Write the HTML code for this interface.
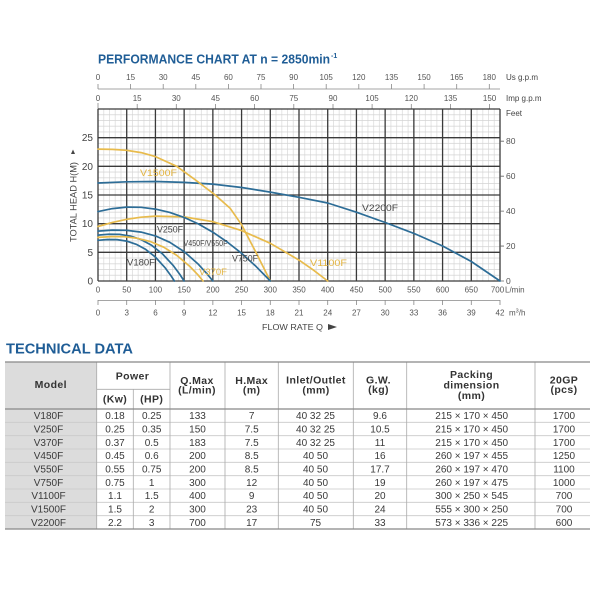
<!DOCTYPE html>
<html>
<head>
<meta charset="utf-8">
<style>
  html,body{margin:0;padding:0;background:#fff;}
  svg{display:block;}
  text{font-family:"Liberation Sans", Arial, sans-serif;}
</style>
</head>
<body>
<svg width="600" height="600" viewBox="0 0 600 600" xmlns="http://www.w3.org/2000/svg">
  <defs>
    <pattern id="mg" patternUnits="userSpaceOnUse" x="95.129" y="106.133" width="5.7429" height="5.7333">
      <path d="M2.8714 0V5.7333M0 2.8667H5.7429" stroke="#d2d2d2" stroke-width="0.6" fill="none"/>
    </pattern>
  </defs>
  <rect width="600" height="600" fill="#fff"/>

  <!-- Title -->
  <text x="98" y="63.5" font-size="12.5" font-weight="bold" fill="#1f5d96" textLength="232" lengthAdjust="spacingAndGlyphs">PERFORMANCE CHART AT n = 2850min</text>
  <text x="331" y="58" font-size="7" font-weight="bold" fill="#1f5d96">-1</text>

  <!-- Top US gpm axis -->
  <g fill="#555" font-size="8" text-anchor="middle">
    <text x="98" y="80">0</text><text x="130.6" y="80">15</text><text x="163.2" y="80">30</text>
    <text x="195.8" y="80">45</text><text x="228.4" y="80">60</text><text x="261" y="80">75</text>
    <text x="293.6" y="80">90</text><text x="326.2" y="80">105</text><text x="358.8" y="80">120</text>
    <text x="391.5" y="80">135</text><text x="424.1" y="80">150</text><text x="456.7" y="80">165</text>
    <text x="489.3" y="80">180</text>
  </g>
  <path d="M98 89H500 M98 84V89 M130.6 84V89 M163.2 84V89 M195.8 84V89 M228.4 84V89 M261 84V89 M293.6 84V89 M326.2 84V89 M358.8 84V89 M391.5 84V89 M424.1 84V89 M456.7 84V89 M489.3 84V89" stroke="#888" stroke-width="0.8" fill="none"/>
  <!-- Imp gpm axis -->
  <g fill="#555" font-size="8" text-anchor="middle">
    <text x="98" y="101">0</text><text x="137.2" y="101">15</text><text x="176.3" y="101">30</text>
    <text x="215.5" y="101">45</text><text x="254.6" y="101">60</text><text x="293.8" y="101">75</text>
    <text x="333" y="101">90</text><text x="372.1" y="101">105</text><text x="411.3" y="101">120</text>
    <text x="450.5" y="101">135</text><text x="489.6" y="101">150</text>
  </g>
  <path d="M98 103V109 M137.2 104V109 M176.3 104V109 M215.5 104V109 M254.6 104V109 M293.8 104V109 M333 104V109 M372.1 104V109 M411.3 104V109 M450.5 104V109 M489.6 104V109" stroke="#888" stroke-width="0.8" fill="none"/>
  <g fill="#444" font-size="8">
    <text x="506" y="80">Us g.p.m</text>
    <text x="506" y="101">Imp g.p.m</text>
    <text x="506" y="116">Feet</text>
  </g>

  <!-- Grid -->
  <rect x="98" y="109" width="402" height="172" fill="url(#mg)"/>
  <path d="M98 109V281 M126.71 109V281 M155.43 109V281 M184.14 109V281 M212.86 109V281 M241.57 109V281 M270.29 109V281 M299 109V281 M327.71 109V281 M356.43 109V281 M385.14 109V281 M413.86 109V281 M442.57 109V281 M471.29 109V281 M500 109V281
           M98 109H500 M98 137.67H500 M98 166.33H500 M98 195H500 M98 223.67H500 M98 252.33H500 M98 281H500"
        stroke="#3a3a3a" stroke-width="1.3" fill="none"/>

  <!-- Left axis labels -->
  <g fill="#444" font-size="10" text-anchor="end">
    <text x="93" y="284.5">0</text><text x="93" y="255.8">5</text><text x="93" y="227.2">10</text>
    <text x="93" y="198.5">15</text><text x="93" y="169.8">20</text><text x="93" y="141.2">25</text>
  </g>
  <text transform="translate(76.5,202) rotate(-90)" text-anchor="middle" font-size="9" fill="#444" textLength="80" lengthAdjust="spacingAndGlyphs">TOTAL HEAD H(M)</text>
  <polygon points="71,154 75,154 73,149.5" fill="#444"/>

  <!-- Right feet axis -->
  <path d="M500 281H504 M500 246.05H504 M500 211.1H504 M500 176.2H504 M500 141.2H504" stroke="#666" stroke-width="0.8"/>
  <g fill="#555" font-size="8.5">
    <text x="506" y="284">0</text><text x="506" y="249">20</text><text x="506" y="214">40</text>
    <text x="506" y="179">60</text><text x="506" y="144">80</text>
  </g>

  <!-- Bottom L/min labels -->
  <g fill="#555" font-size="8" text-anchor="middle">
    <text x="98" y="292.5">0</text><text x="126.71" y="292.5">50</text><text x="155.43" y="292.5">100</text>
    <text x="184.14" y="292.5">150</text><text x="212.86" y="292.5">200</text><text x="241.57" y="292.5">250</text>
    <text x="270.29" y="292.5">300</text><text x="299" y="292.5">350</text><text x="327.71" y="292.5">400</text>
    <text x="356.43" y="292.5">450</text><text x="385.14" y="292.5">500</text><text x="413.86" y="292.5">550</text>
    <text x="442.57" y="292.5">600</text><text x="471.29" y="292.5">650</text><text x="497.5" y="292.5">700</text>
  </g>
  <text x="505" y="292.5" font-size="8" fill="#555">L/min</text>

  <!-- m3/h axis -->
  <path d="M98 300.5H500 M98 300V305 M126.71 300V305 M155.43 300V305 M184.14 300V305 M212.86 300V305 M241.57 300V305 M270.29 300V305 M299 300V305 M327.71 300V305 M356.43 300V305 M385.14 300V305 M413.86 300V305 M442.57 300V305 M471.29 300V305 M500 300V305" stroke="#888" stroke-width="0.8" fill="none"/>
  <g fill="#555" font-size="8" text-anchor="middle">
    <text x="98" y="315.5">0</text><text x="126.71" y="315.5">3</text><text x="155.43" y="315.5">6</text>
    <text x="184.14" y="315.5">9</text><text x="212.86" y="315.5">12</text><text x="241.57" y="315.5">15</text>
    <text x="270.29" y="315.5">18</text><text x="299" y="315.5">21</text><text x="327.71" y="315.5">24</text>
    <text x="356.43" y="315.5">27</text><text x="385.14" y="315.5">30</text><text x="413.86" y="315.5">33</text>
    <text x="442.57" y="315.5">36</text><text x="471.29" y="315.5">39</text><text x="500" y="315.5">42</text>
  </g>
  <text x="509" y="315.5" font-size="8" fill="#555">m<tspan font-size="5.5" dy="-3">3</tspan><tspan dy="3">/h</tspan></text>
  <text x="262" y="330" font-size="8.5" fill="#444" textLength="61" lengthAdjust="spacingAndGlyphs">FLOW RATE  Q</text>
  <polygon points="328,324 328,330 337,327" fill="#444"/>

  <!-- Curves -->
  <g fill="none" stroke-width="1.7" stroke-linejoin="round" stroke-linecap="round">
    <polyline stroke="#2d6d97" points="98,183.0 126.7,181.8 155.4,181.5 184.1,182.4 212.9,184.1 241.6,187.5 270.3,192.1 299,197.3 327.7,203.0 356.4,212.2 385.2,222.5 413.9,233.4 442.6,246.0 471.3,261.5 500,281"/>
    <polyline stroke="#e8bb4c" points="98,149.1 112.4,149.4 126.7,150.3 141.1,152.6 155.4,156.6 176.7,166.3 195.6,180.1 215.2,195.0 230.1,208.2 241.6,224.8 255.9,252.3 270.3,281"/>
    <polyline stroke="#e8bb4c" points="98,226.5 112.4,222.4 126.7,219.3 141.1,217.2 155.4,216.1 184.1,216.9 212.9,221.7 241.6,230.6 270.3,243.3 299,260.1 313.4,270.1 327.7,281"/>
    <polyline stroke="#2d6d97" points="98,211.6 112.4,208.6 126.7,207.1 141.1,207.3 155.4,209.1 169.8,212.4 184.1,217.4 198.5,224.0 212.9,232.2 227.2,242.0 241.6,253.3 255.9,266.3 270.3,281"/>
    <polyline stroke="#2d6d97" points="98,231.1 112.4,230.1 126.7,230.3 141.1,232.1 155.4,235.9 169.8,242.3 184.1,251.6 198.5,264.4 207.1,273.9 212.9,281"/>
    <polyline stroke="#2d6d97" points="98,235.1 108.8,234.2 119.5,234.3 130.3,236.1 141.1,239.6 151.8,245.4 162.6,254 173.4,265.7 179.8,274.4 184.1,281"/>
    <polyline stroke="#e8bb4c" points="98,237.4 111.2,236.6 124.3,236.7 137.4,238.3 150.5,241.6 163.7,247.2 176.8,255.4 189.9,266.5 197.9,274.8 203.1,281"/>
    <polyline stroke="#2d6d97" points="98,240.3 107.5,239.5 117.1,239.6 126.7,241.1 136.2,244.3 145.7,249.4 155.3,257 164.8,267.4 170.6,275.2 174.4,281"/>
  </g>

  <!-- Curve labels -->
  <g font-size="9.5">
    <text x="140" y="176" fill="#e3b440" textLength="37" lengthAdjust="spacingAndGlyphs">V1500F</text>
    <text x="362" y="211" fill="#444" textLength="36" lengthAdjust="spacingAndGlyphs">V2200F</text>
    <text x="157" y="232.5" fill="#444" textLength="26" lengthAdjust="spacingAndGlyphs">V250F</text>
    <text x="183.5" y="246" fill="#444" textLength="44" lengthAdjust="spacingAndGlyphs" font-size="8.5">V450F/V550F</text>
    <text x="127" y="265.5" fill="#444" textLength="28" lengthAdjust="spacingAndGlyphs">V180F</text>
    <text x="232" y="261.5" fill="#444" textLength="26" lengthAdjust="spacingAndGlyphs">V750F</text>
    <text x="199" y="275" fill="#e3b440" textLength="28" lengthAdjust="spacingAndGlyphs">V370F</text>
    <text x="310" y="266" fill="#e3b440" textLength="37" lengthAdjust="spacingAndGlyphs">V1100F</text>
  </g>

  <!-- TECHNICAL DATA -->
  <text x="6" y="353.5" font-size="14.5" font-weight="bold" fill="#1f5d96" textLength="127" lengthAdjust="spacingAndGlyphs">TECHNICAL DATA</text>

  <!-- Table -->
  <rect x="5" y="362" width="91.7" height="167" fill="#dcdcdc"/>
  <path d="M5 422.3H590 M5 435.7H590 M5 449H590 M5 462.3H590 M5 475.7H590 M5 489H590 M5 502.3H590 M5 515.7H590" stroke="#c9c9c9" stroke-width="0.8"/>
  <path d="M96.7 362V529 M170 362V529 M225 362V529 M278.3 362V529 M353.3 362V529 M406.7 362V529 M535 362V529 M133.3 389.3V529 M96.7 389.3H170" stroke="#aaa" stroke-width="0.8"/>
  <path d="M5 362H590 M5 409H590 M5 529H590" stroke="#888" stroke-width="1.2"/>

  <g font-size="10.5" font-weight="bold" fill="#333" text-anchor="middle" letter-spacing="0.4">
    <text x="50.8" y="388">Model</text>
    <text x="132.5" y="379.5">Power</text>
    <text x="115" y="402.5">(Kw)</text>
    <text x="151.7" y="402.5">(HP)</text>
    <text x="197" y="384">Q.Max</text>
    <text x="197" y="393.5">(L/min)</text>
    <text x="251.7" y="384">H.Max</text>
    <text x="251.7" y="393.5">(m)</text>
    <text x="316" y="383.5">Inlet/Outlet</text>
    <text x="316" y="393.5">(mm)</text>
    <text x="378.5" y="383.5">G.W.</text>
    <text x="378.5" y="393">(kg)</text>
    <text x="471.5" y="378">Packing</text>
    <text x="471.5" y="388.5">dimension</text>
    <text x="471.5" y="399">(mm)</text>
    <text x="564" y="383.5">20GP</text>
    <text x="564" y="393">(pcs)</text>
  </g>

  <g font-size="10" fill="#3a3a3a" text-anchor="middle">
    <text x="48.5" y="419.2">V180F</text><text x="115" y="419.2">0.18</text><text x="151.7" y="419.2">0.25</text><text x="197.5" y="419.2">133</text><text x="251.7" y="419.2">7</text><text x="315.5" y="419.2">40 32 25</text><text x="380" y="419.2">9.6</text><text x="471.7" y="419.2">215 × 170 × 450</text><text x="564" y="419.2">1700</text>
    <text x="48.5" y="432.5">V250F</text><text x="115" y="432.5">0.25</text><text x="151.7" y="432.5">0.35</text><text x="197.5" y="432.5">150</text><text x="251.7" y="432.5">7.5</text><text x="315.5" y="432.5">40 32 25</text><text x="380" y="432.5">10.5</text><text x="471.7" y="432.5">215 × 170 × 450</text><text x="564" y="432.5">1700</text>
    <text x="48.5" y="445.8">V370F</text><text x="115" y="445.8">0.37</text><text x="151.7" y="445.8">0.5</text><text x="197.5" y="445.8">183</text><text x="251.7" y="445.8">7.5</text><text x="315.5" y="445.8">40 32 25</text><text x="380" y="445.8">11</text><text x="471.7" y="445.8">215 × 170 × 450</text><text x="564" y="445.8">1700</text>
    <text x="48.5" y="459.2">V450F</text><text x="115" y="459.2">0.45</text><text x="151.7" y="459.2">0.6</text><text x="197.5" y="459.2">200</text><text x="251.7" y="459.2">8.5</text><text x="315.5" y="459.2">40 50</text><text x="380" y="459.2">16</text><text x="471.7" y="459.2">260 × 197 × 455</text><text x="564" y="459.2">1250</text>
    <text x="48.5" y="472.5">V550F</text><text x="115" y="472.5">0.55</text><text x="151.7" y="472.5">0.75</text><text x="197.5" y="472.5">200</text><text x="251.7" y="472.5">8.5</text><text x="315.5" y="472.5">40 50</text><text x="380" y="472.5">17.7</text><text x="471.7" y="472.5">260 × 197 × 470</text><text x="564" y="472.5">1100</text>
    <text x="48.5" y="485.8">V750F</text><text x="115" y="485.8">0.75</text><text x="151.7" y="485.8">1</text><text x="197.5" y="485.8">300</text><text x="251.7" y="485.8">12</text><text x="315.5" y="485.8">40 50</text><text x="380" y="485.8">19</text><text x="471.7" y="485.8">260 × 197 × 475</text><text x="564" y="485.8">1000</text>
    <text x="48.5" y="499.2">V1100F</text><text x="115" y="499.2">1.1</text><text x="151.7" y="499.2">1.5</text><text x="197.5" y="499.2">400</text><text x="251.7" y="499.2">9</text><text x="315.5" y="499.2">40 50</text><text x="380" y="499.2">20</text><text x="471.7" y="499.2">300 × 250 × 545</text><text x="564" y="499.2">700</text>
    <text x="48.5" y="512.5">V1500F</text><text x="115" y="512.5">1.5</text><text x="151.7" y="512.5">2</text><text x="197.5" y="512.5">300</text><text x="251.7" y="512.5">23</text><text x="315.5" y="512.5">40 50</text><text x="380" y="512.5">24</text><text x="471.7" y="512.5">555 × 300 × 250</text><text x="564" y="512.5">700</text>
    <text x="48.5" y="525.8">V2200F</text><text x="115" y="525.8">2.2</text><text x="151.7" y="525.8">3</text><text x="197.5" y="525.8">700</text><text x="251.7" y="525.8">17</text><text x="315.5" y="525.8">75</text><text x="380" y="525.8">33</text><text x="471.7" y="525.8">573 × 336 × 225</text><text x="564" y="525.8">600</text>
  </g>
</svg>
</body>
</html>
